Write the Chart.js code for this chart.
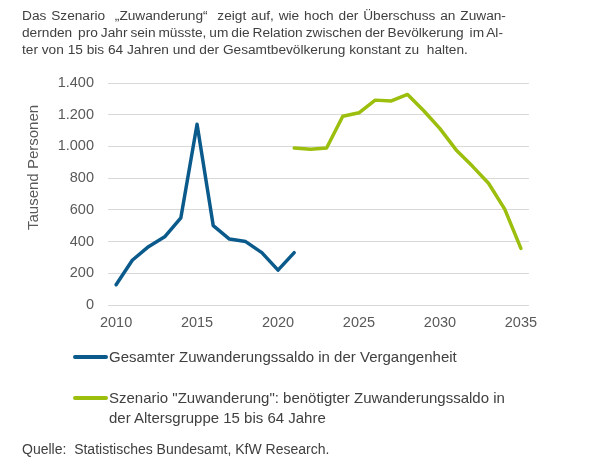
<!DOCTYPE html>
<html>
<head>
<meta charset="utf-8">
<script src="https://cdn.jsdelivr.net/npm/chart.js@4/dist/chart.umd.min.js"></script>
<style>
  html, body { margin: 0; padding: 0; background: #fff; }
  body { width: 589px; height: 466px; position: relative; overflow: hidden; font-family: "Liberation Sans", Arial, sans-serif; color: #404040; }
  #wrap { position: absolute; left: 0; top: 0; width: 589px; height: 466px; }
  .t { position: absolute; left: 22px; font-size: 13.7px; line-height: 17px; white-space: pre; }
  .leg { position: absolute; left: 73px; font-size: 15px; line-height: 20px; color: #404040; }
  .leg .sw { position: absolute; left: 0; width: 35px; height: 4px; border-radius: 2px; }
  .leg .tx { position: absolute; left: 36px; white-space: nowrap; }
  #src { position: absolute; left: 22px; top: 441px; font-size: 14px; line-height: 17px; color: #404040; white-space: pre; }
  #ytitle { position: absolute; left: 24px; top: 105px; height: 125px; writing-mode: vertical-rl; transform: rotate(180deg); font-size: 15px; line-height: 18px; font-weight: normal; color: #595959; white-space: nowrap; text-align: center; }
</style>
</head>
<body>
<div id="wrap"><canvas id="c" width="589" height="466"></canvas></div>
<div class="t" id="l1" data-w="484" style="top:7px;">Das Szenario  „Zuwanderung“  zeigt auf, wie hoch der Überschuss an Zuwan-</div>
<div class="t" id="l2" data-w="481" style="top:24px;">dernden  pro Jahr sein müsste, um die Relation zwischen der Bevölkerung  im Al-</div>
<div class="t" style="top:41px;">ter von 15 bis 64 Jahren und der Gesamtbevölkerung konstant zu  halten.</div>

<div id="ytitle">Tausend Personen</div>

<div class="leg" style="top:347px;"><span class="sw" style="top:8px;background:#0b5a8c;"></span><span class="tx">Gesamter Zuwanderungssaldo in der Vergangenheit</span></div>
<div class="leg" style="top:388px;"><span class="sw" style="top:8px;background:#9bbf0c;"></span><span class="tx">Szenario "Zuwanderung": benötigter Zuwanderungssaldo in<br>der Altersgruppe 15 bis 64 Jahre</span></div>
<div id="src">Quelle:  Statistisches Bundesamt, KfW Research.</div>

<script>
const years = [2010,2011,2012,2013,2014,2015,2016,2017,2018,2019,2020,2021,2022,2023,2024,2025,2026,2027,2028,2029,2030,2031,2032,2033,2034,2035];
const pastYears = [2010,2011,2012,2013,2014,2015,2016,2017,2018,2019,2020,2021];
const pastValues = [128,282,368,430,550,1140,500,416,400,330,220,330];
const scenarioYears = [2021,2022,2023,2024,2025,2026,2027,2028,2029,2030,2031,2032,2033,2034,2035];
const scenarioValues = [990,982,990,1190,1212,1292,1287,1328,1225,1112,978,876,768,605,357];
const seriesNames = ["Gesamter Zuwanderungssaldo in der Vergangenheit", "Szenario \"Zuwanderung\": benötigter Zuwanderungssaldo in der Altersgruppe 15 bis 64 Jahre"];

// stretch the first two header lines to their justified width
['l1','l2'].forEach(id => {
  const el = document.getElementById(id);
  const target = +el.dataset.w;
  const nat = el.getBoundingClientRect().width;
  const spaces = (el.textContent.match(/ /g) || []).length;
  if (spaces) el.style.wordSpacing = ((target - nat) / spaces).toFixed(2) + 'px';
});

function align(srcYears, vals) {
  return years.map(y => { const i = srcYears.indexOf(y); return i >= 0 ? vals[i] : null; });
}
function fmt(v) { return String(v).replace(/\B(?=(\d{3})+(?!\d))/g, '.'); }

new Chart(document.getElementById('c'), {
  type: 'line',
  data: {
    labels: years,
    datasets: [
      { label: seriesNames[0], data: align(pastYears, pastValues), borderColor: '#0b5a8c', borderWidth: 3.5, pointRadius: 0, tension: 0, fill: false, spanGaps: false, borderCapStyle: 'round', borderJoinStyle: 'round' },
      { label: seriesNames[1], data: align(scenarioYears, scenarioValues), borderColor: '#9bbf0c', borderWidth: 3.5, pointRadius: 0, tension: 0, fill: false, spanGaps: false, borderCapStyle: 'round', borderJoinStyle: 'round' }
    ]
  },
  options: {
    responsive: false,
    animation: false,
    events: [],
    layout: { padding: { left: 0, right: 60, top: 83, bottom: 131 } },
    plugins: { legend: { display: false }, title: { display: false }, tooltip: { enabled: false } },
    scales: {
      x: {
        type: 'category',
        offset: true,
        grid: { display: false, drawTicks: false },
        border: { display: false },
        ticks: {
          autoSkip: false, maxRotation: 0, minRotation: 0, padding: 9,
          color: '#595959', font: { family: 'Liberation Sans', size: 14.5 },
          callback: function(v, i) { const y = years[i]; return y % 5 === 0 ? String(y) : ''; }
        },
        afterFit: function(s) { s.height = 30; }
      },
      y: {
        min: 0, max: 1400,
        grid: { color: '#d9d9d9', lineWidth: 1, drawTicks: false },
        border: { display: false },
        ticks: { stepSize: 200, padding: 14, color: '#595959', font: { family: 'Liberation Sans', size: 14.5 }, callback: v => fmt(v) },
        afterFit: function(s) { s.width = 108; }
      }
    }
  }
});
</script>
</body>
</html>
